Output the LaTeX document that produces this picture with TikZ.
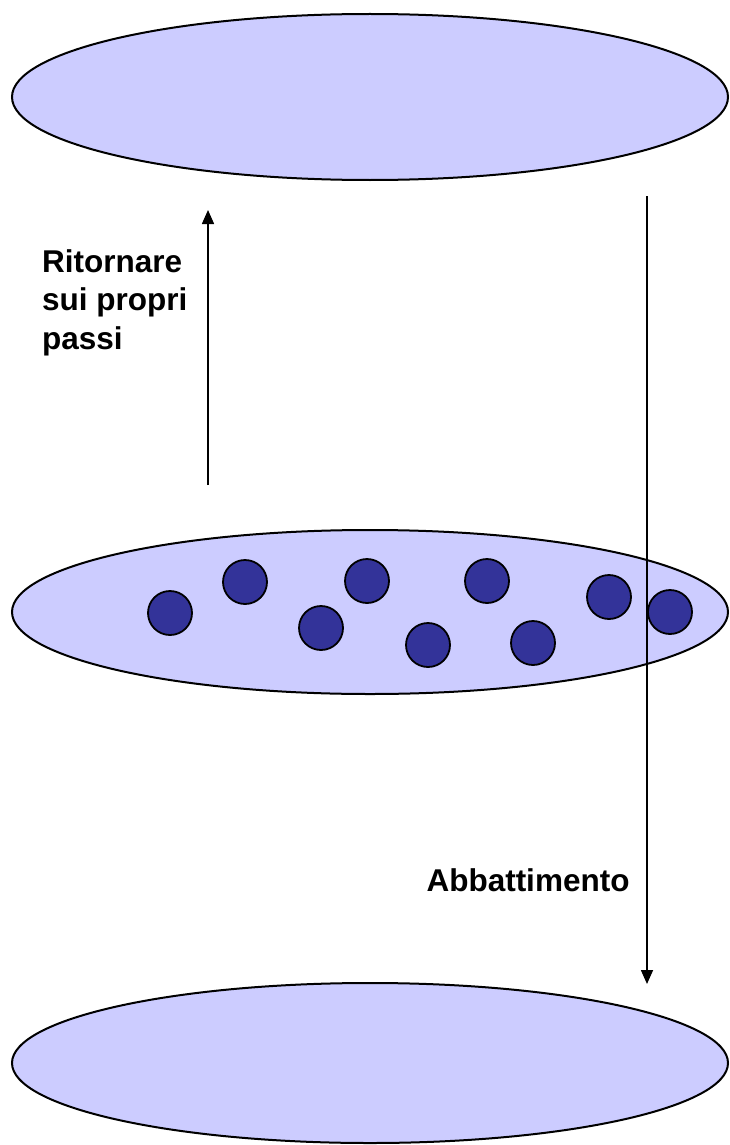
\documentclass[tikz,border=0pt]{standalone}
\usepackage{fontspec}
\setmainfont{Liberation Sans}
\usetikzlibrary{arrows.meta}
\definecolor{lav}{HTML}{CCCCFF}
\definecolor{dot}{HTML}{333399}
\begin{document}
\begin{tikzpicture}[x=1pt,y=-1pt,
  disk/.style={draw=black,fill=lav,line width=2pt},
  ball/.style={circle,draw=black,fill=dot,line width=1.8pt,minimum size=44pt,inner sep=0pt},
  arr/.style={line width=1.6pt,-{Triangle[length=14pt,width=12pt]}},
  lbl/.style={font=\bfseries\fontsize{31.5}{38.5}\selectfont,align=left}]
\useasboundingbox (0,0) rectangle (729,1145);
\draw[disk] (370,97) ellipse [x radius=358, y radius=83];
\draw[disk] (370,612) ellipse [x radius=358, y radius=82];
\draw[disk] (370,1063) ellipse [x radius=358, y radius=80];
\node[ball] (b1) at (170,613) {};
\node[ball] (b2) at (245,582) {};
\node[ball] (b3) at (321,628) {};
\node[ball] (b4) at (367,581) {};
\node[ball] (b5) at (428,645) {};
\node[ball] (b6) at (487,581) {};
\node[ball] (b7) at (533,643) {};
\node[ball] (b8) at (609,597) {};
\node[ball] (b9) at (670,612) {};
\coordinate (us) at (208,485);
\coordinate (ue) at (208,210);
\coordinate (ds) at (647,196);
\coordinate (de) at (647,984);
\draw[arr] (us) -- (ue);
\draw[arr] (ds) -- (de);
\node[lbl,anchor=north west,inner sep=0pt] (t1) at (42,249) {Ritornare\\sui propri\\passi};
\node[lbl,anchor=center,inner sep=0pt] (t2) at (528,880) {Abbattimento};
\end{tikzpicture}
\end{document}
